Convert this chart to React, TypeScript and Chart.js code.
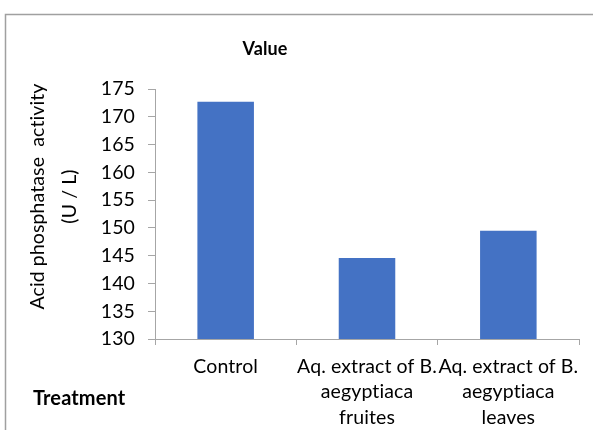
import React, { useEffect, useRef } from 'react';
import { Chart, registerables } from 'chart.js';

Chart.register(...registerables);

const categories: string[][] = [
  ['Control'],
  ['Aq. extract of B.', 'aegyptiaca', 'fruites'],
  ['Aq. extract of B.', 'aegyptiaca', 'leaves'],
];
const values: number[] = [172.7, 144.6, 149.5];
const yMin = 130;
const yMax = 175;
const yStep = 5;
const chartTitle = 'Value';
const yTitleLines: string[] = ['Acid phosphatase  activity', '(U / L)'];
const xTitle = 'Treatment';

const FONT = 'Lato, "Noto Sans", sans-serif';
const AXIS_COLOR = '#a6a6a6';
const BAR_COLOR = '#4472C4';
const TEXT_COLOR = '#000000';

const decor = {
  id: 'decor',
  beforeDraw(chart: any) {
    const ctx = chart.ctx as any;
    // small letter spacing disables the Lato "ti" ligature
    ctx.letterSpacing = '0.1px';
    ctx.save();
    ctx.fillStyle = '#ffffff';
    ctx.fillRect(0, 0, chart.width, chart.height);
    ctx.strokeStyle = '#a0a0a0';
    ctx.lineWidth = 1.5;
    ctx.beginPath();
    ctx.moveTo(5.5, chart.height);
    ctx.lineTo(5.5, 14.5);
    ctx.lineTo(chart.width, 14.5);
    ctx.stroke();
    ctx.restore();
  },
  afterDraw(chart: any) {
    const ctx = chart.ctx as any;
    ctx.save();
    ctx.letterSpacing = '0.1px';
    ctx.fillStyle = TEXT_COLOR;
    // chart title
    ctx.font = `bold 18px ${FONT}`;
    ctx.textAlign = 'center';
    ctx.textBaseline = 'alphabetic';
    ctx.fillText(chartTitle, 265, 55);
    // x title
    ctx.font = `bold 20px ${FONT}`;
    ctx.textAlign = 'left';
    ctx.fillText(xTitle, 33, 405);
    // y title
    ctx.font = `19.5px ${FONT}`;
    ctx.textAlign = 'center';
    const baselines = [44, 76];
    yTitleLines.forEach((line, i) => {
      ctx.save();
      ctx.translate(baselines[i], 196.5);
      ctx.rotate(-Math.PI / 2);
      ctx.fillText(line, 0, 0);
      ctx.restore();
    });
    ctx.restore();
  },
};

export default function App() {
  const ref = useRef<HTMLCanvasElement | null>(null);
  useEffect(() => {
    if (!ref.current) return;
    const chart = new Chart(ref.current, {
      type: 'bar',
      data: {
        labels: categories,
        datasets: [
          {
            label: chartTitle,
            data: values,
            backgroundColor: BAR_COLOR,
            borderWidth: 0,
            barPercentage: 0.4,
            categoryPercentage: 1,
          },
        ],
      },
      options: {
        responsive: false,
        animation: false,
        layout: { padding: { top: 89, right: 14, left: 0, bottom: 0 } },
        plugins: {
          legend: { display: false },
          title: { display: false },
          tooltip: { enabled: false },
        },
        scales: {
          x: {
            type: 'category',
            offset: true,
            grid: {
              offset: true,
              drawOnChartArea: false,
              drawTicks: true,
              tickLength: 6,
              color: AXIS_COLOR,
            },
            border: { display: true, color: AXIS_COLOR },
            ticks: {
              color: TEXT_COLOR,
              font: { family: FONT, size: 19.5, lineHeight: 1.3 },
              padding: 9,
              maxRotation: 0,
              minRotation: 0,
              autoSkip: false,
            },
            afterFit: (s: any) => {
              s.height = 91;
            },
          },
          y: {
            min: yMin,
            max: yMax,
            grid: {
              drawOnChartArea: false,
              drawTicks: true,
              tickLength: 7,
              color: AXIS_COLOR,
            },
            border: { display: true, color: AXIS_COLOR },
            ticks: {
              stepSize: yStep,
              color: TEXT_COLOR,
              font: { family: FONT, size: 19.5 },
              padding: 13,
            },
            afterFit: (s: any) => {
              s.width = 155;
            },
          },
        },
      },
      plugins: [decor],
    });
    return () => chart.destroy();
  }, []);
  return (
    <canvas
      ref={ref}
      width={593}
      height={430}
      style={{ position: 'absolute', left: 0, top: 0, display: 'block' }}
    />
  );
}
